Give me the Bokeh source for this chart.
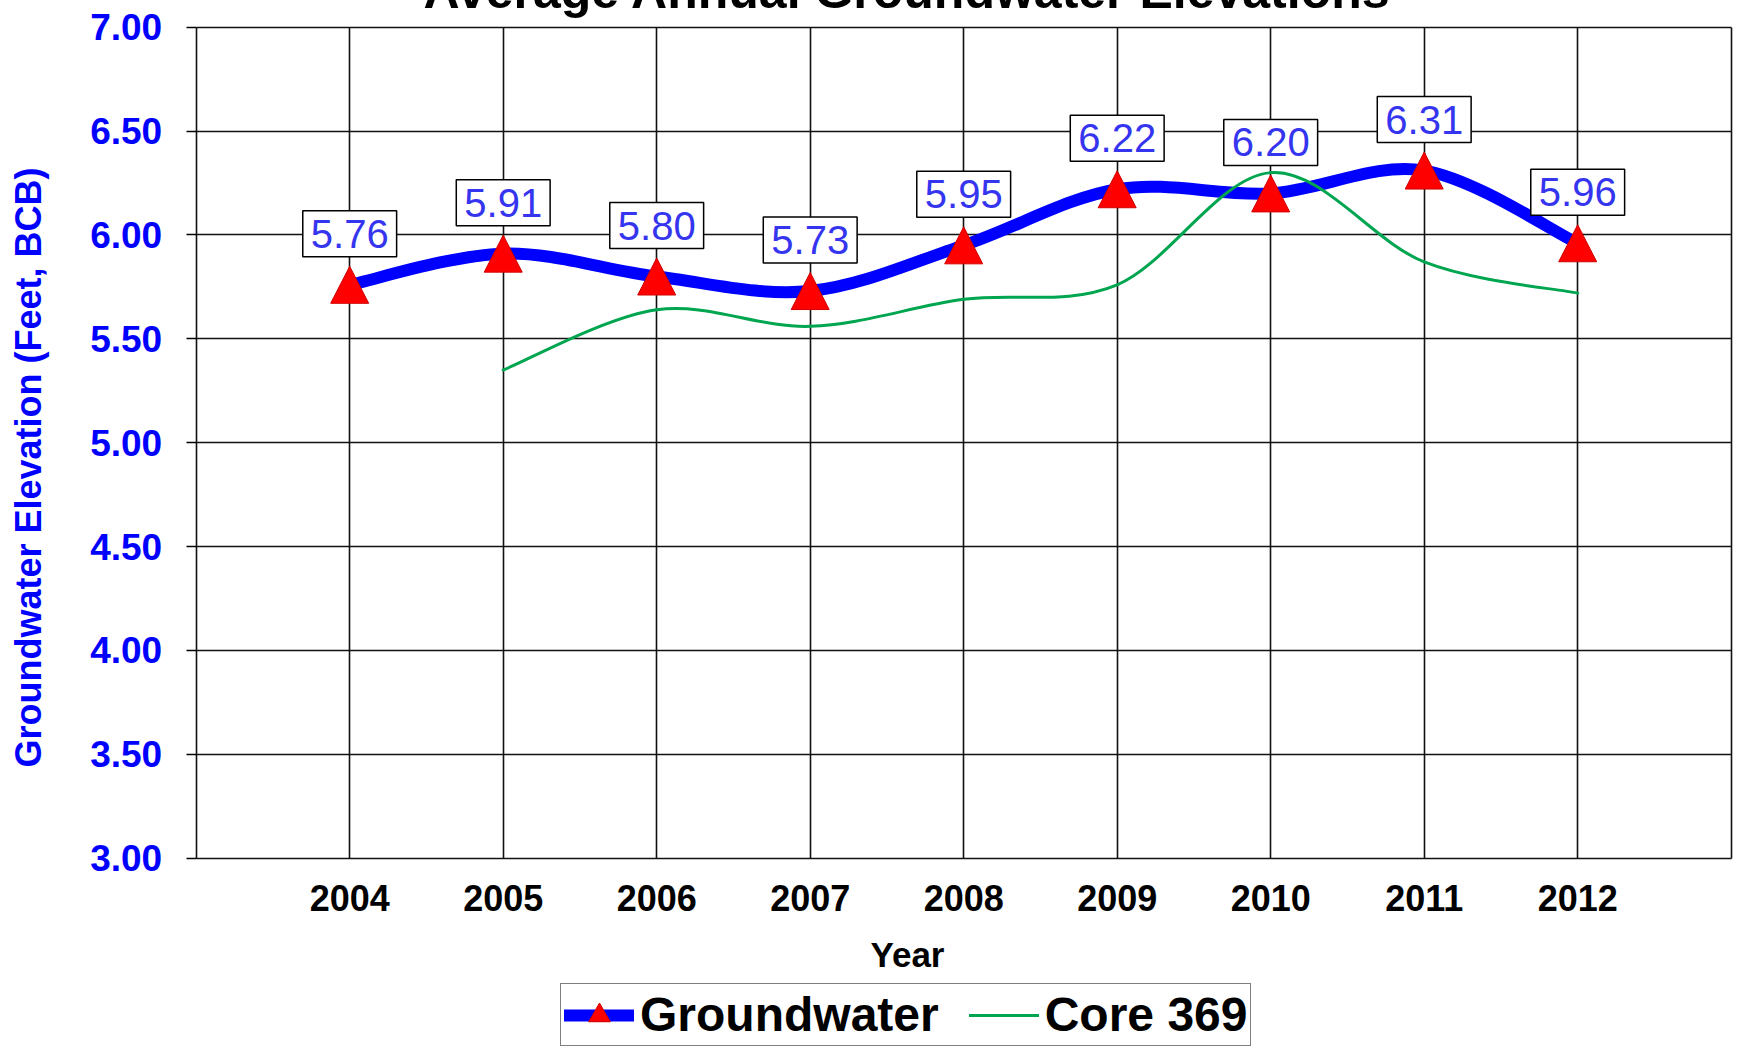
import numpy as np
from bokeh.plotting import figure
from bokeh.models import (Label, Legend, LegendItem, FixedTicker,
                          NumeralTickFormatter, Range1d)
from bokeh.embed import file_html
from bokeh.resources import INLINE

# ---------------- data ----------------
years = [2004, 2005, 2006, 2007, 2008, 2009, 2010, 2011, 2012]
groundwater = [5.76, 5.91, 5.80, 5.73, 5.95, 6.22, 6.20, 6.31, 5.96]
core_years = [2005, 2006, 2007, 2008, 2009, 2010, 2011, 2012]
core369 = [5.35, 5.64, 5.56, 5.69, 5.76, 6.30, 5.87, 5.72]
y_ticks = [3.0, 3.5, 4.0, 4.5, 5.0, 5.5, 6.0, 6.5, 7.0]
grid_years = [2003, 2004, 2005, 2006, 2007, 2008, 2009, 2010, 2011, 2012, 2013]
title_text = "Average Annual Groundwater Elevations"
x_label = "Year"
y_label = "Groundwater Elevation (Feet, BCB)"
series_names = ["Groundwater", "Core 369"]

FONT = "Liberation Sans"
OFF = 4                      # canvas sits OFF px up/left of the page origin
W, H = 1741, 1051
# pixel box of the plotting area on the canvas
BX0, BX1, BY0, BY1 = 195.7 + OFF, 1730.7 + OFF, 26.7 + OFF, 857.7 + OFF
XA, XB, YA, YB = 2003, 2013, 3.0, 7.0
ppx = (BX1 - BX0) / (XB - XA)
ppy = (BY1 - BY0) / (YB - YA)
x_range = Range1d(XA - BX0 / ppx, XB + (W - BX1) / ppx)
y_range = Range1d(YA - (H - BY1) / ppy, YB + BY0 / ppy)


def smooth(xs, ys):
    """Catmull-Rom style (Excel 'smoothed line') cubic Bezier segments."""
    x = np.asarray(xs, float)
    y = np.asarray(ys, float)
    n = len(x)
    xp = np.concatenate([[x[0]], x, [x[-1]]])
    yp = np.concatenate([[y[0]], y, [y[-1]]])
    cx0 = x[:-1] + (xp[2:n + 1] - xp[0:n - 1]) / 6.0
    cy0 = y[:-1] + (yp[2:n + 1] - yp[0:n - 1]) / 6.0
    cx1 = x[1:] - (xp[3:n + 2] - xp[1:n]) / 6.0
    cy1 = y[1:] - (yp[3:n + 2] - yp[1:n]) / 6.0
    return dict(x0=x[:-1], y0=y[:-1], x1=x[1:], y1=y[1:],
                cx0=cx0, cy0=cy0, cx1=cx1, cy1=cy1)


p = figure(width=W, height=H, x_range=x_range, y_range=y_range,
           output_backend="svg", toolbar_location=None,
           min_border=0, min_border_left=0, min_border_right=0,
           min_border_top=0, min_border_bottom=0,
           background_fill_color="white", border_fill_color="white",
           margin=(-4, -4, -4, -4))
p.outline_line_color = None

# axes, drawn at the edges of the plotting box
p.xaxis.fixed_location = YA
p.yaxis.fixed_location = XA
p.xaxis.ticker = FixedTicker(ticks=years)
p.yaxis.ticker = FixedTicker(ticks=y_ticks)
p.yaxis.formatter = NumeralTickFormatter(format="0.00")
for ax in (p.xaxis, p.yaxis):
    ax.axis_line_color = None
    ax.minor_tick_line_color = None
    ax.major_label_text_font = FONT
    ax.major_label_text_font_style = "bold"
p.xaxis.major_label_text_font_size = "36px"
p.yaxis.major_label_text_font_size = "37px"
p.xaxis.major_tick_line_color = None
p.xaxis.major_tick_out = 0
p.xaxis.major_tick_in = 0
p.xaxis.major_label_standoff = 27
p.xaxis.major_label_text_color = "black"
p.yaxis.major_tick_line_color = "black"
p.yaxis.major_tick_line_width = 1.5
p.yaxis.major_tick_out = 10
p.yaxis.major_tick_in = 0
p.yaxis.major_label_standoff = 24
p.yaxis.major_label_text_color = "#0000FF"

# grid, limited to the plotting box
xg, yg = p.xgrid[0], p.ygrid[0]
xg.ticker = FixedTicker(ticks=grid_years)
yg.ticker = FixedTicker(ticks=y_ticks)
if "cross_bounds" in xg.properties():
    xg.cross_bounds = (YA, YB)
    yg.cross_bounds = (XA, XB)
    for g in (xg, yg):
        g.grid_line_color = "#111111"
        g.grid_line_width = 1.6
        g.grid_line_alpha = 1.0
else:
    for g in (xg, yg):
        g.grid_line_color = None
    ny, nx = len(y_ticks), len(grid_years)
    p.segment(x0=grid_years, y0=[YA] * nx, x1=grid_years, y1=[YB] * nx,
              line_color="#111111", line_width=1.6)
    p.segment(x0=[XA] * ny, y0=y_ticks, x1=[XB] * ny, y1=y_ticks,
              line_color="#111111", line_width=1.6)

# series
gw = smooth(years, groundwater)
gw_line = p.bezier(source=gw, x0="x0", y0="y0", x1="x1", y1="y1",
                   cx0="cx0", cy0="cy0", cx1="cx1", cy1="cy1",
                   line_color="#0000FF", line_width=12, line_cap="round")
cr = smooth(core_years, core369)
core_line = p.bezier(source=cr, x0="x0", y0="y0", x1="x1", y1="y1",
                     cx0="cx0", cy0="cy0", cx1="cx1", cy1="cy1",
                     line_color="#00A550", line_width=3, line_cap="round")

# small triangle marker (hidden under the big ones) used for the legend entry
leg_tri = p.scatter(x=years, y=groundwater, marker="triangle", size=24,
                    fill_color="#FF0000", line_color="#D00000")

# red triangle markers, 38 px wide x 37 px tall, centred on each point
hw, hh = 19 / ppx, 18.5 / ppy
tri_xs = [[x - hw, x + hw, x] for x in years]
tri_ys = [[y - hh, y - hh, y + hh] for y in groundwater]
p.patches(tri_xs, tri_ys, fill_color="#FF0000", line_color="#D00000", line_width=1)

# data labels
for x, y in zip(years, groundwater):
    p.add_layout(Label(x=x, y=y, y_offset=51, text=f"{y:.2f}",
                       text_font=FONT, text_font_size="40px",
                       text_color="#3535F0", text_align="center",
                       text_baseline="middle",
                       background_fill_color="white",
                       border_line_color="black", border_line_width=1.5,
                       padding=dict(left=8, right=8, top=9, bottom=9)))

# title (cropped at the top like the original), axis titles
p.add_layout(Label(x=907 + OFF, y=H - (-5.5), x_units="screen", y_units="screen",
                   text=title_text, text_font=FONT, text_font_size="50px",
                   text_font_style="bold", text_color="black",
                   text_align="center", text_baseline="middle"))
p.add_layout(Label(x=907 + OFF, y=H - (954 + OFF), x_units="screen", y_units="screen",
                   text=x_label, text_font=FONT, text_font_size="35px",
                   text_font_style="bold", text_color="black",
                   text_align="center", text_baseline="middle"))
p.add_layout(Label(x=28 + OFF, y=H - (467 + OFF), x_units="screen", y_units="screen",
                   text=y_label, text_font=FONT, text_font_size="36px",
                   text_font_style="bold", text_color="#0000FF",
                   angle=np.pi / 2, text_align="center", text_baseline="middle"))

legend = Legend(items=[LegendItem(label=series_names[0], renderers=[gw_line, leg_tri]),
                       LegendItem(label=series_names[1], renderers=[core_line])],
                location=(560 + OFF, H - (1046 + OFF)), orientation="horizontal",
                label_text_font=FONT, label_text_font_size="48px",
                label_text_font_style="bold", label_text_color="black",
                glyph_width=70, glyph_height=54, label_height=54,
                label_standoff=6, spacing=30, padding=3, margin=0,
                border_line_color="black", border_line_width=1.5,
                background_fill_color="white", background_fill_alpha=1.0)
p.add_layout(legend)

open("out.html", "w").write(file_html(p, INLINE))
